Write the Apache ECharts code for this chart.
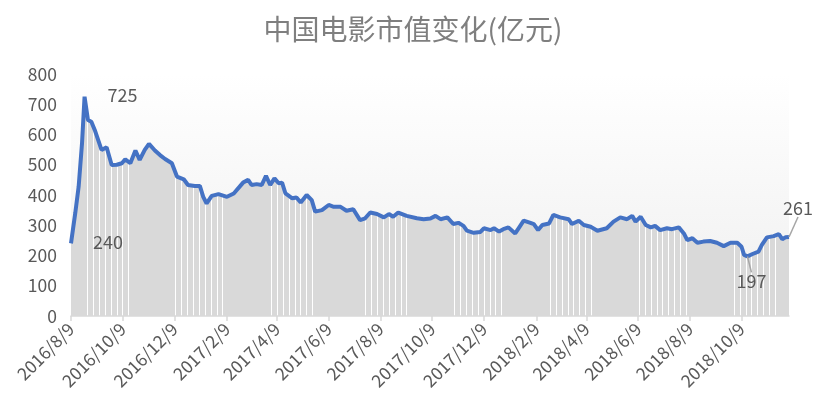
<html>
<head>
    <meta charset="utf-8" />
    <title>中国电影市值变化</title>
    <script src="https://cdn.jsdelivr.net/npm/echarts@6/dist/echarts.min.js"></script>
    <style>
        body { margin: 0; background: #fff; }
    </style>
</head>
<body>
    <div id="movieChart" style="width: 826px;height:414px;"></div>
    <script type="text/javascript">
        var chartTitle = '中国电影市值变化(亿元)';
        var firstDay = '2016/8/9';
        var lastDay = '2018/12/4';
        var yTicks = [0, 100, 200, 300, 400, 500, 600, 700, 800];

        var dates = [
            '2016/8/9', '2016/8/14', '2016/8/18', '2016/8/22', '2016/8/25', '2016/8/29', '2016/9/2', '2016/9/6',
            '2016/9/10', '2016/9/14', '2016/9/20', '2016/9/26', '2016/10/2', '2016/10/8', '2016/10/12', '2016/10/18',
            '2016/10/24', '2016/10/29', '2016/11/4', '2016/11/9', '2016/11/16', '2016/11/22', '2016/11/28', '2016/12/6',
            '2016/12/12', '2016/12/20', '2016/12/25', '2017/1/2', '2017/1/8', '2017/1/12', '2017/1/16', '2017/1/22',
            '2017/1/30', '2017/2/9', '2017/2/17', '2017/2/28', '2017/3/6', '2017/3/10', '2017/3/16', '2017/3/22',
            '2017/3/27', '2017/4/1', '2017/4/6', '2017/4/11', '2017/4/15', '2017/4/19', '2017/4/27', '2017/5/2',
            '2017/5/7', '2017/5/14', '2017/5/20', '2017/5/24', '2017/6/1', '2017/6/9', '2017/6/15', '2017/6/23',
            '2017/6/30', '2017/7/8', '2017/7/16', '2017/7/22', '2017/7/28', '2017/8/5', '2017/8/13', '2017/8/19',
            '2017/8/24', '2017/8/30', '2017/9/9', '2017/9/21', '2017/9/29', '2017/10/7', '2017/10/13', '2017/10/19',
            '2017/10/27', '2017/11/3', '2017/11/9', '2017/11/15', '2017/11/19', '2017/11/27', '2017/12/5', '2017/12/9',
            '2017/12/17', '2017/12/21', '2017/12/27', '2018/1/1', '2018/1/7', '2018/1/15', '2018/1/19', '2018/1/25',
            '2018/2/2', '2018/2/6', '2018/2/11', '2018/2/16', '2018/2/24', '2018/3/1', '2018/3/9', '2018/3/19',
            '2018/3/23', '2018/3/31', '2018/4/6', '2018/4/14', '2018/4/22', '2018/5/3', '2018/5/11', '2018/5/19',
            '2018/5/27', '2018/6/2', '2018/6/6', '2018/6/12', '2018/6/18', '2018/6/24', '2018/6/29', '2018/7/5',
            '2018/7/13', '2018/7/19', '2018/7/27', '2018/8/2', '2018/8/6', '2018/8/12', '2018/8/18', '2018/8/25',
            '2018/9/2', '2018/9/10', '2018/9/18', '2018/9/26', '2018/10/4', '2018/10/9', '2018/10/12', '2018/10/16',
            '2018/10/22', '2018/10/29', '2018/11/2', '2018/11/8', '2018/11/16', '2018/11/22', '2018/11/26', '2018/11/30',
            '2018/12/4'
        ];
        var values = [
            240, 340, 427, 571, 725, 648, 642, 615,
            582, 549, 558, 499, 500, 505, 518, 505,
            547, 516, 549, 569, 547, 532, 519, 505,
            461, 452, 433, 430, 430, 394, 372, 397,
            403, 394, 405, 441, 450, 433, 436, 433,
            463, 433, 455, 439, 441, 405, 389, 392,
            375, 400, 383, 345, 350, 367, 361, 361,
            348, 353, 317, 323, 342, 337, 326, 337,
            328, 342, 331, 323, 320, 322, 331, 320,
            326, 304, 308, 298, 282, 275, 278, 290,
            284, 290, 279, 287, 293, 273, 290, 315,
            308, 304, 284, 301, 306, 334, 326, 320,
            304, 315, 301, 295, 282, 290, 312, 326,
            320, 331, 312, 328, 301, 293, 298, 284,
            290, 287, 293, 273, 251, 257, 242, 246,
            248, 242, 231, 242, 242, 229, 202, 197,
            205, 213, 235, 260, 264, 271, 254, 260,
            261
        ];
        // dates that carry a value label, and whether a leader line is drawn
        var labelledDates = ['2016/8/25', '2016/8/9', '2018/10/16', '2018/12/4'];
        var leaderLines = [false, false, true, true];

        // the weekly white seams of the original area fill: first week and number of weeks
        var seamStarts = ['2016/8/28', '2016/12/10', '2017/4/2', '2017/7/22', '2017/11/4', '2018/2/25', '2018/6/10', '2018/9/30'];
        var seamWeeks = [8, 9, 8, 8, 9, 8, 9, 8];

        function parseDay(s) {
            var p = s.split('/');
            return new Date(+p[0], +p[1] - 1, +p[2]);
        }
        function fmtDay(d) {
            return d.getFullYear() + '/' + (d.getMonth() + 1) + '/' + d.getDate();
        }

        function buildDays() {
            var days = [];
            var d = parseDay(firstDay);
            var end = parseDay(lastDay);
            while (d <= end) {
                days.push(fmtDay(d));
                d.setDate(d.getDate() + 1);
            }
            return days;
        }

        function buildSeams() {
            var out = [];
            seamStarts.forEach(function (s, i) {
                var d = parseDay(s);
                for (var k = 0; k < seamWeeks[i]; k++) {
                    out.push({ xAxis: fmtDay(d) });
                    d.setDate(d.getDate() + 7);
                }
            });
            return out;
        }

        // Excel style date axis: a mark every 2 months on the 9th
        function isMajor(index, value) {
            var p = value.split('/');
            return +p[2] === 9 && (+p[1]) % 2 === 0;
        }

        function renderChart() {
            var chart = echarts.init(document.getElementById('movieChart'));
            var days = buildDays();
            var points = dates.map(function (d, i) { return [d, values[i]]; });
            var seriesData = dates.map(function (d, i) {
                var item = { value: [d, values[i]] };
                var k = labelledDates.indexOf(d);
                if (k >= 0) {
                    item.label = { show: true };
                    item.labelLine = { show: leaderLines[k] };
                }
                return item;
            });

            var option = {
                animation: false,
                title: {
                    text: chartTitle,
                    left: 'center',
                    top: 10,
                    textStyle: {
                        color: '#7f7f7f',
                        fontSize: 28,
                        fontWeight: 'normal',
                        fontFamily: 'Noto Sans CJK SC'
                    }
                },
                grid: {
                    left: 71,
                    right: 37,
                    top: 74,
                    bottom: 98
                },
                xAxis: {
                    type: 'category',
                    data: days,
                    boundaryGap: false,
                    z: 5,
                    axisLine: { lineStyle: { color: '#d9d9d9', width: 1.5 } },
                    axisTick: { interval: isMajor, length: 5, lineStyle: { color: '#d9d9d9', width: 1.5 } },
                    axisLabel: {
                        interval: isMajor,
                        rotate: 45,
                        color: '#595959',
                        fontSize: 17.5,
                        margin: 10,
                        fontFamily: 'Noto Sans CJK SC'
                    },
                    splitLine: { show: false }
                },
                yAxis: {
                    type: 'value',
                    min: yTicks[0],
                    max: yTicks[yTicks.length - 1],
                    interval: 100,
                    axisLine: { show: false },
                    axisTick: { show: false },
                    splitLine: { show: false },
                    axisLabel: {
                        color: '#595959',
                        fontSize: 17.5,
                        margin: 14,
                        fontFamily: 'Noto Sans CJK SC'
                    }
                },
                series: [{
                    // gray fill under the curve
                    type: 'line',
                    z: 1,
                    data: points,
                    symbol: 'none',
                    lineStyle: { width: 0 },
                    areaStyle: { color: '#d9d9d9', opacity: 1 },
                    silent: true,
                    markLine: {
                        silent: true,
                        z: 2,
                        symbol: 'none',
                        label: { show: false },
                        lineStyle: { color: '#ffffff', width: 1, type: 'solid' },
                        data: buildSeams()
                    }
                }, {
                    // soft background above the curve, hides the seams there
                    type: 'line',
                    z: 3,
                    data: points,
                    symbol: 'none',
                    lineStyle: { width: 0 },
                    areaStyle: {
                        origin: 'end',
                        opacity: 1,
                        color: new echarts.graphic.LinearGradient(0, 0, 0, 1, [
                            { offset: 0, color: '#ffffff' },
                            { offset: 1, color: '#f3f3f3' }
                        ])
                    },
                    silent: true
                }, {
                    type: 'line',
                    z: 4,
                    data: seriesData,
                    showSymbol: true,
                    symbol: 'circle',
                    symbolSize: 0.1,
                    lineStyle: { color: '#4472c4', width: 4 },
                    itemStyle: { color: 'rgba(0,0,0,0)' },
                    label: {
                        show: false,
                        position: 'top',
                        fontSize: 18,
                        color: '#595959',
                        fontFamily: 'Noto Sans CJK SC',
                        formatter: function (p) { return p.value[1]; }
                    },
                    labelLine: {
                        show: true,
                        lineStyle: { color: '#a6a6a6', width: 1.5 }
                    },
                    labelLayout: function (params) {
                        var d = dates[params.dataIndex];
                        if (d === '2016/8/25') return { dx: 38, dy: 13 };
                        if (d === '2016/8/9') return { dx: 37, dy: 13 };
                        if (d === '2018/10/16') return { dx: 4, dy: 39 };
                        if (d === '2018/12/4') return { dx: 9, dy: -15 };
                        return {};
                    }
                }]
            };
            chart.setOption(option);
        }

        renderChart();
    </script>
</body>
</html>
